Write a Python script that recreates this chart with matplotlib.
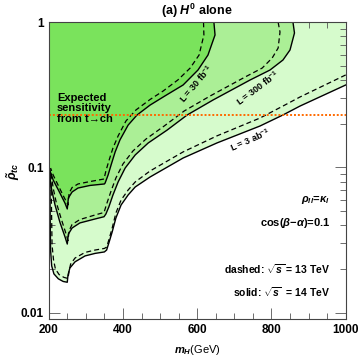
import matplotlib
matplotlib.use("Agg")
import matplotlib.pyplot as plt
from matplotlib.ticker import MultipleLocator, FixedLocator, NullFormatter, LogLocator

plt.rcParams['font.family'] = ['Liberation Sans', 'DejaVu Sans']
plt.rcParams['mathtext.fontset'] = 'custom'
plt.rcParams['mathtext.rm'] = 'Liberation Sans:bold'
plt.rcParams['mathtext.it'] = 'Liberation Sans:bold:italic'
plt.rcParams['mathtext.bf'] = 'Liberation Sans:bold'

# contour data, m_H (GeV) vs rho_tc ; solid = 14 TeV, dashed = 13 TeV
m_30_s = [645, 648, 629, 602, 562, 513, 473, 438, 414, 392, 379, 368, 360, 352, 350,
          311, 279, 263, 253, 250, 244, 226, 212, 204, 201]
y_30_s = [1.0, 0.818, 0.595, 0.469, 0.370, 0.311, 0.269, 0.230, 0.196, 0.155, 0.128, 0.104, 0.0888, 0.0782, 0.077,
          0.0752, 0.0722, 0.0678, 0.0617, 0.0518, 0.0567, 0.070, 0.082, 0.0936, 0.0977]
m_30_d = [617, 618, 605, 581, 548, 508, 473, 435, 408, 387, 373, 362, 354, 349,
          311, 279, 263, 255, 252, 241, 225, 212, 205]
y_30_d = [1.0, 0.818, 0.595, 0.484, 0.401, 0.336, 0.294, 0.249, 0.209, 0.165, 0.136, 0.111, 0.0946, 0.0833,
          0.080, 0.077, 0.0728, 0.0667, 0.0552, 0.0626, 0.0758, 0.0888, 0.0991]

m_300_s = [858, 862, 850, 831, 796, 742, 643, 573, 519, 468, 433, 406, 387, 373, 362, 354, 349,
           325, 284, 263, 253, 250, 244, 230, 217, 208, 204, 202]
y_300_s = [1.0, 0.844, 0.645, 0.550, 0.469, 0.400, 0.292, 0.230, 0.181, 0.1475, 0.122, 0.0992, 0.0795, 0.0646, 0.0535, 0.0478, 0.0458,
           0.0442, 0.0415, 0.0383, 0.0348, 0.0297, 0.0332, 0.0421, 0.0552, 0.070, 0.082, 0.0977]
m_300_d = [818, 823, 818, 802, 775, 729, 635, 565, 511, 462, 427, 400, 381, 368, 357, 349,
           325, 284, 263, 255, 252, 245, 233, 220, 212, 206]
y_300_d = [1.0, 0.857, 0.665, 0.568, 0.484, 0.420, 0.311, 0.245, 0.193, 0.157, 0.130, 0.1057, 0.0847, 0.0689, 0.057, 0.049,
           0.0471, 0.0438, 0.0405, 0.0368, 0.0314, 0.036, 0.0449, 0.0579, 0.0722, 0.093]

m_3ab_s = [1000, 877, 831, 769, 653, 562, 473, 433, 414, 395, 381, 371, 362, 356, 350,
           325, 298, 271, 257, 252, 250, 239, 226, 214, 208, 205, 204, 203]
y_3ab_s = [0.370, 0.265, 0.230, 0.193, 0.1475, 0.1162, 0.086, 0.0734, 0.0647, 0.0552, 0.0449, 0.036, 0.0302, 0.027, 0.0262,
           0.0256, 0.0246, 0.0224, 0.0203, 0.0182, 0.0162, 0.0164, 0.0171, 0.0185, 0.021, 0.027, 0.0435, 0.0977]
m_3ab_d = [1000, 877, 831, 769, 653, 562, 473, 433, 414, 395, 381, 371, 362, 356, 350,
           325, 298, 271, 259, 255, 252, 241, 228, 218, 213, 209, 208, 206]
y_3ab_d = [0.434, 0.306, 0.265, 0.219, 0.165, 0.128, 0.0946, 0.0795, 0.070, 0.0597, 0.0486, 0.0383, 0.0317, 0.0283, 0.0277,
           0.027, 0.026, 0.0238, 0.0216, 0.0194, 0.0172, 0.0175, 0.0183, 0.020, 0.0231, 0.0292, 0.0435, 0.093]

tch_limit = 0.23

fig = plt.figure(figsize=(3.6, 3.61), dpi=100)
ax = fig.add_axes([0.1353, 0.1155, 0.8250, 0.8227])

# filled regions, lightest first
ax.fill([1000] + m_3ab_s + [200, 1000], [1.0] + y_3ab_s + [1.0, 1.0], color='#d6fbcc', lw=0, zorder=1)
ax.fill(m_300_s + [200], y_300_s + [1.0], color='#abef96', lw=0, zorder=2)
ax.fill(m_30_s + [200], y_30_s + [1.0], color='#7ae35c', lw=0, zorder=3)

for m, y in [(m_30_s, y_30_s), (m_300_s, y_300_s), (m_3ab_s, y_3ab_s)]:
    ax.plot(m, y, color='black', lw=1.0, zorder=5)
for m, y in [(m_30_d, y_30_d), (m_300_d, y_300_d), (m_3ab_d, y_3ab_d)]:
    ax.plot(m, y, color='black', lw=0.9, ls=(0, (4, 2.5)), zorder=5)

ax.axhline(tch_limit, color='#ff6a00', lw=1.4, ls=(0, (1, 1)), zorder=6)

ax.set_yscale('log')
ax.set_xlim(200, 1000)
ax.set_ylim(0.009, 1.0)

ax.xaxis.set_major_locator(MultipleLocator(200))
ax.xaxis.set_minor_locator(MultipleLocator(50))
ax.yaxis.set_major_locator(FixedLocator([0.01, 0.1, 1]))
ax.yaxis.set_minor_locator(LogLocator(subs=range(2, 10)))
ax.yaxis.set_minor_formatter(NullFormatter())
ax.set_yticklabels(['0.01', '0.1', '1'])
ax.tick_params(which='both', direction='in', top=True, right=True, labelsize=8.5, width=0.6, color='#555555')
ax.tick_params(which='major', length=8)
ax.tick_params(which='minor', length=4)
for lab in ax.get_xticklabels() + ax.get_yticklabels():
    lab.set_fontweight('bold')
for sp in ax.spines.values():
    sp.set_linewidth(0.8)
    sp.set_color('#444444')
    sp.set_zorder(7)

ax.set_title(r'(a) $H^0$ alone', fontsize=9, fontweight='bold', pad=5)
ax.set_xlabel(r'$m_H$(GeV)', fontsize=8, labelpad=5)
ax.set_ylabel(r'$\tilde{\rho}_{tc}$', fontsize=9)
ax.yaxis.set_label_coords(-0.09, 0.5)

ax.text(222, 0.255, 'Expected\nsensitivity\nfrom t→ch', fontsize=8, fontweight='bold',
        va='center', ha='left', linespacing=1.05, zorder=8)

ax.text(597, 0.376, r'L = 30 fb$^{-1}$', rotation=50, fontsize=6.5, fontweight='bold',
        ha='center', va='center', zorder=8)
ax.text(764, 0.353, r'L = 300 fb$^{-1}$', rotation=37, fontsize=6.5, fontweight='bold',
        ha='center', va='center', zorder=8)
ax.text(742, 0.1545, r'L = 3 ab$^{-1}$', rotation=24, fontsize=6.5, fontweight='bold',
        ha='center', va='center', zorder=8)

ax.text(958, 0.0597, r'$\rho_{ll}$=$\kappa_l$', fontsize=8, fontweight='bold', ha='right', va='center')
ax.text(958, 0.0417, r'cos($\beta$$-$$\alpha$)=0.1', fontsize=8, fontweight='bold', ha='right', va='center')
ax.text(958, 0.020, r'dashed: $\sqrt{s}$ = 13 TeV', fontsize=7.5, fontweight='bold', ha='right', va='center')
ax.text(958, 0.01374, r'solid: $\sqrt{s}$  = 14 TeV', fontsize=7.5, fontweight='bold', ha='right', va='center')

fig.savefig('out.png', dpi=100)
